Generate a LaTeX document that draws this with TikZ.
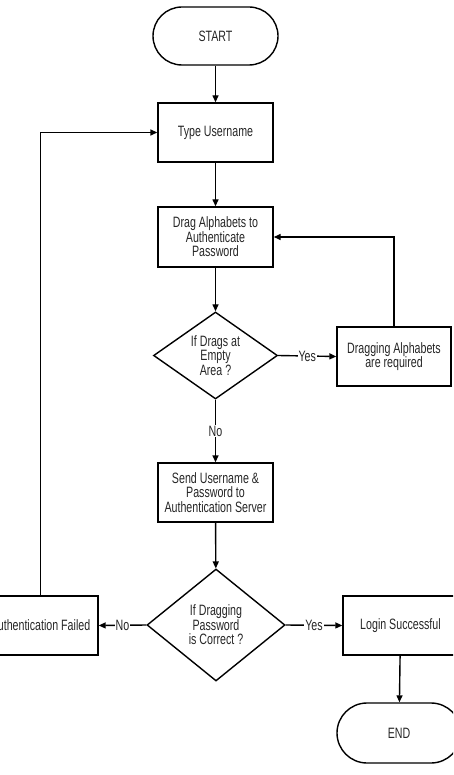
\documentclass[tikz,border=0pt]{standalone}
\usepackage{fontspec}
\setmainfont{Liberation Sans}[FakeStretch=0.71]
\usetikzlibrary{shapes.geometric,arrows.meta}
\begin{document}
\begin{tikzpicture}[x=1pt,y=-1pt,
  base/.style={draw, line width=1.4pt, align=center, inner sep=0pt,
    font=\fontsize{15}{14.5}\selectfont, text=black!85},
  procbox/.style={base, rectangle, minimum width=115pt, minimum height=59pt},
  termbox/.style={base, rectangle, rounded corners=29pt, minimum width=125pt, minimum height=58pt},
  decbox/.style={base, diamond, aspect=1.3},
  conn/.style={line width=1.4pt, -{Triangle[length=7pt,width=6pt]}},
  lbl/.style={fill=white, inner sep=1pt, font=\fontsize{15}{14.5}\selectfont, text=black!85}]
\clip (0,0) rectangle (453,775);
\useasboundingbox (0,0) rectangle (453,775);
\node[termbox] (start) at (215.5,36) {START};
\node[procbox] (type) at (215.5,132.5) {Type Username};
\node[procbox, minimum height=60pt] (drag) at (215.5,237) {Drag Alphabets to\\Authenticate\\Password};
\node[decbox, minimum width=124pt, minimum height=87pt] (d1) at (215.5,355.5) {If Drags at\\Empty\\Area ?};
\node[procbox, minimum width=114pt] (req) at (394,356.5) {Dragging Alphabets\\are required};
\node[procbox] (send) at (215.5,492.5) {Send Username \&\\Password to\\Authentication Server};
\node[decbox, minimum width=138pt, minimum height=112pt] (d2) at (216,625) {If Dragging\\Password\\is Correct ?};
\node[procbox] (fail) at (40.5,625.5) {Authentication Failed};
\node[procbox] (login) at (400.5,625.5) {Login Successful};
\node[termbox, minimum width=124pt, minimum height=60pt, rounded corners=30pt] (end) at (399,733) {END};

\draw[conn] (start) -- (type);
\draw[conn] (type) -- (drag);
\draw[conn] (drag) -- (d1);
\draw[conn] (d1.east) -- node[lbl] {Yes} (req.west);
\draw[conn] (req.north) |- (drag.east);
\draw[conn] (d1.south) -- node[lbl] {No} (send.north);
\draw[conn] (send) -- (d2);
\draw[conn] (d2.west) -- node[lbl] {No} (fail.east);
\draw[conn] (d2.east) -- node[lbl] {Yes} (login.west);
\draw[conn] (fail.north) |- (type.west);
\draw[conn] (login) -- (end);
\end{tikzpicture}
\end{document}
